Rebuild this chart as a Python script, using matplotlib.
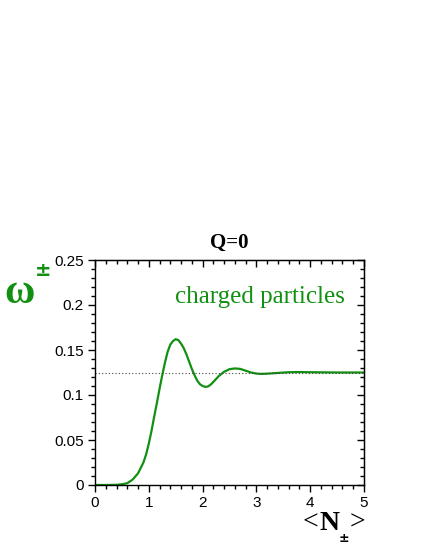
import numpy as np
import matplotlib
matplotlib.use("Agg")
import matplotlib.pyplot as plt
from matplotlib.ticker import MultipleLocator

# values
n_mean = [0.0, 0.2, 0.4, 0.5, 0.6, 0.7, 0.8, 0.9, 0.95, 1.0, 1.05, 1.1,
          1.15, 1.2, 1.25, 1.3, 1.35, 1.4, 1.45, 1.5, 1.55, 1.6, 1.65, 1.7,
          1.75, 1.8, 1.85, 1.9, 1.95, 2.0, 2.05, 2.1, 2.15, 2.2, 2.3, 2.4,
          2.5, 2.6, 2.7, 2.8, 2.9, 3.0, 3.1, 3.2, 3.4, 3.6, 3.8, 4.0, 4.5,
          5.0]
omega = [0.0, 0.0, 0.0002, 0.0008, 0.002, 0.006, 0.013, 0.025, 0.034,
         0.046, 0.060, 0.076, 0.091, 0.107, 0.122, 0.136, 0.148, 0.156,
         0.160, 0.162, 0.161, 0.157, 0.152, 0.145, 0.137, 0.129, 0.122,
         0.116, 0.112, 0.110, 0.109, 0.1095, 0.1115, 0.1145, 0.121, 0.1258,
         0.1287, 0.1295, 0.129, 0.127, 0.125, 0.1238, 0.1234, 0.1237,
         0.1245, 0.1253, 0.1255, 0.1253, 0.125, 0.125]
limit_value = 0.125

xticks = [0, 1, 2, 3, 4, 5]
yticks = [0, 0.05, 0.1, 0.15, 0.2, 0.25]
ytick_labels = ["0", "0.05", "0.1", "0.15", "0.2", "0.25"]

GREEN = "#119011"
W, H = 424, 548

fig = plt.figure(figsize=(W / 100, H / 100), dpi=100)
ax = fig.add_axes([95 / W, 1 - 485 / H, 269 / W, 225 / H])

ax.plot(n_mean, omega, color=GREEN, lw=1.6)
ax.axhline(limit_value, color="#444444", lw=0.8, ls=(0, (1, 2)))

ax.set_xlim(0, 5)
ax.set_ylim(0, 0.25)
ax.set_xticks(xticks)
ax.set_xticklabels([str(t) for t in xticks])
ax.set_yticks(yticks)
ax.set_yticklabels(ytick_labels)
ax.xaxis.set_minor_locator(MultipleLocator(0.2))
ax.yaxis.set_minor_locator(MultipleLocator(0.01))
ax.tick_params(which="major", direction="out", length=5, width=1,
               labelsize=11, pad=3)
ax.tick_params(which="minor", direction="out", length=3, width=1)
for lab in ax.get_xticklabels() + ax.get_yticklabels():
    lab.set_fontfamily("Liberation Sans")
for s in ax.spines.values():
    s.set_linewidth(1)

# inward ticks on top and right
top = ax.secondary_xaxis("top")
top.set_xticks(xticks)
top.xaxis.set_minor_locator(MultipleLocator(0.2))
top.tick_params(which="major", direction="in", length=5, width=1, labeltop=False)
top.tick_params(which="minor", direction="in", length=3, width=1)
right = ax.secondary_yaxis("right")
right.set_yticks(yticks)
right.yaxis.set_minor_locator(MultipleLocator(0.01))
right.tick_params(which="major", direction="in", length=5, width=1, labelright=False)
right.tick_params(which="minor", direction="in", length=3, width=1)

def px(x, y):
    return x / W, 1 - y / H

fig.text(*px(229, 243), "Q=0", ha="center", va="center",
         family="Liberation Serif", weight="bold", fontsize=15)
fig.text(*px(175, 297), "charged particles", ha="left", va="center",
         family="Liberation Serif", color=GREEN, fontsize=18)

# y label: omega with superscript
fig.text(*px(20, 293), "\u03c9", ha="center", va="center",
         family="Liberation Serif", weight="bold", color=GREEN, fontsize=30)
fig.text(*px(43, 270), "\u00b1", ha="center", va="center",
         family="DejaVu Sans", weight="bold", color=GREEN, fontsize=14)

# x label: <N±>
fig.text(*px(303, 523), "<", ha="left", va="center",
         family="Liberation Serif", fontsize=20)
fig.text(*px(319, 523), "N", ha="left", va="center",
         family="Liberation Serif", weight="bold", fontsize=20)
fig.text(*px(344, 539), "\u00b1", ha="center", va="center",
         family="DejaVu Sans", weight="bold", fontsize=9)
fig.text(*px(350, 523), ">", ha="left", va="center",
         family="Liberation Serif", fontsize=20)

fig.savefig("out.png", dpi=100)
